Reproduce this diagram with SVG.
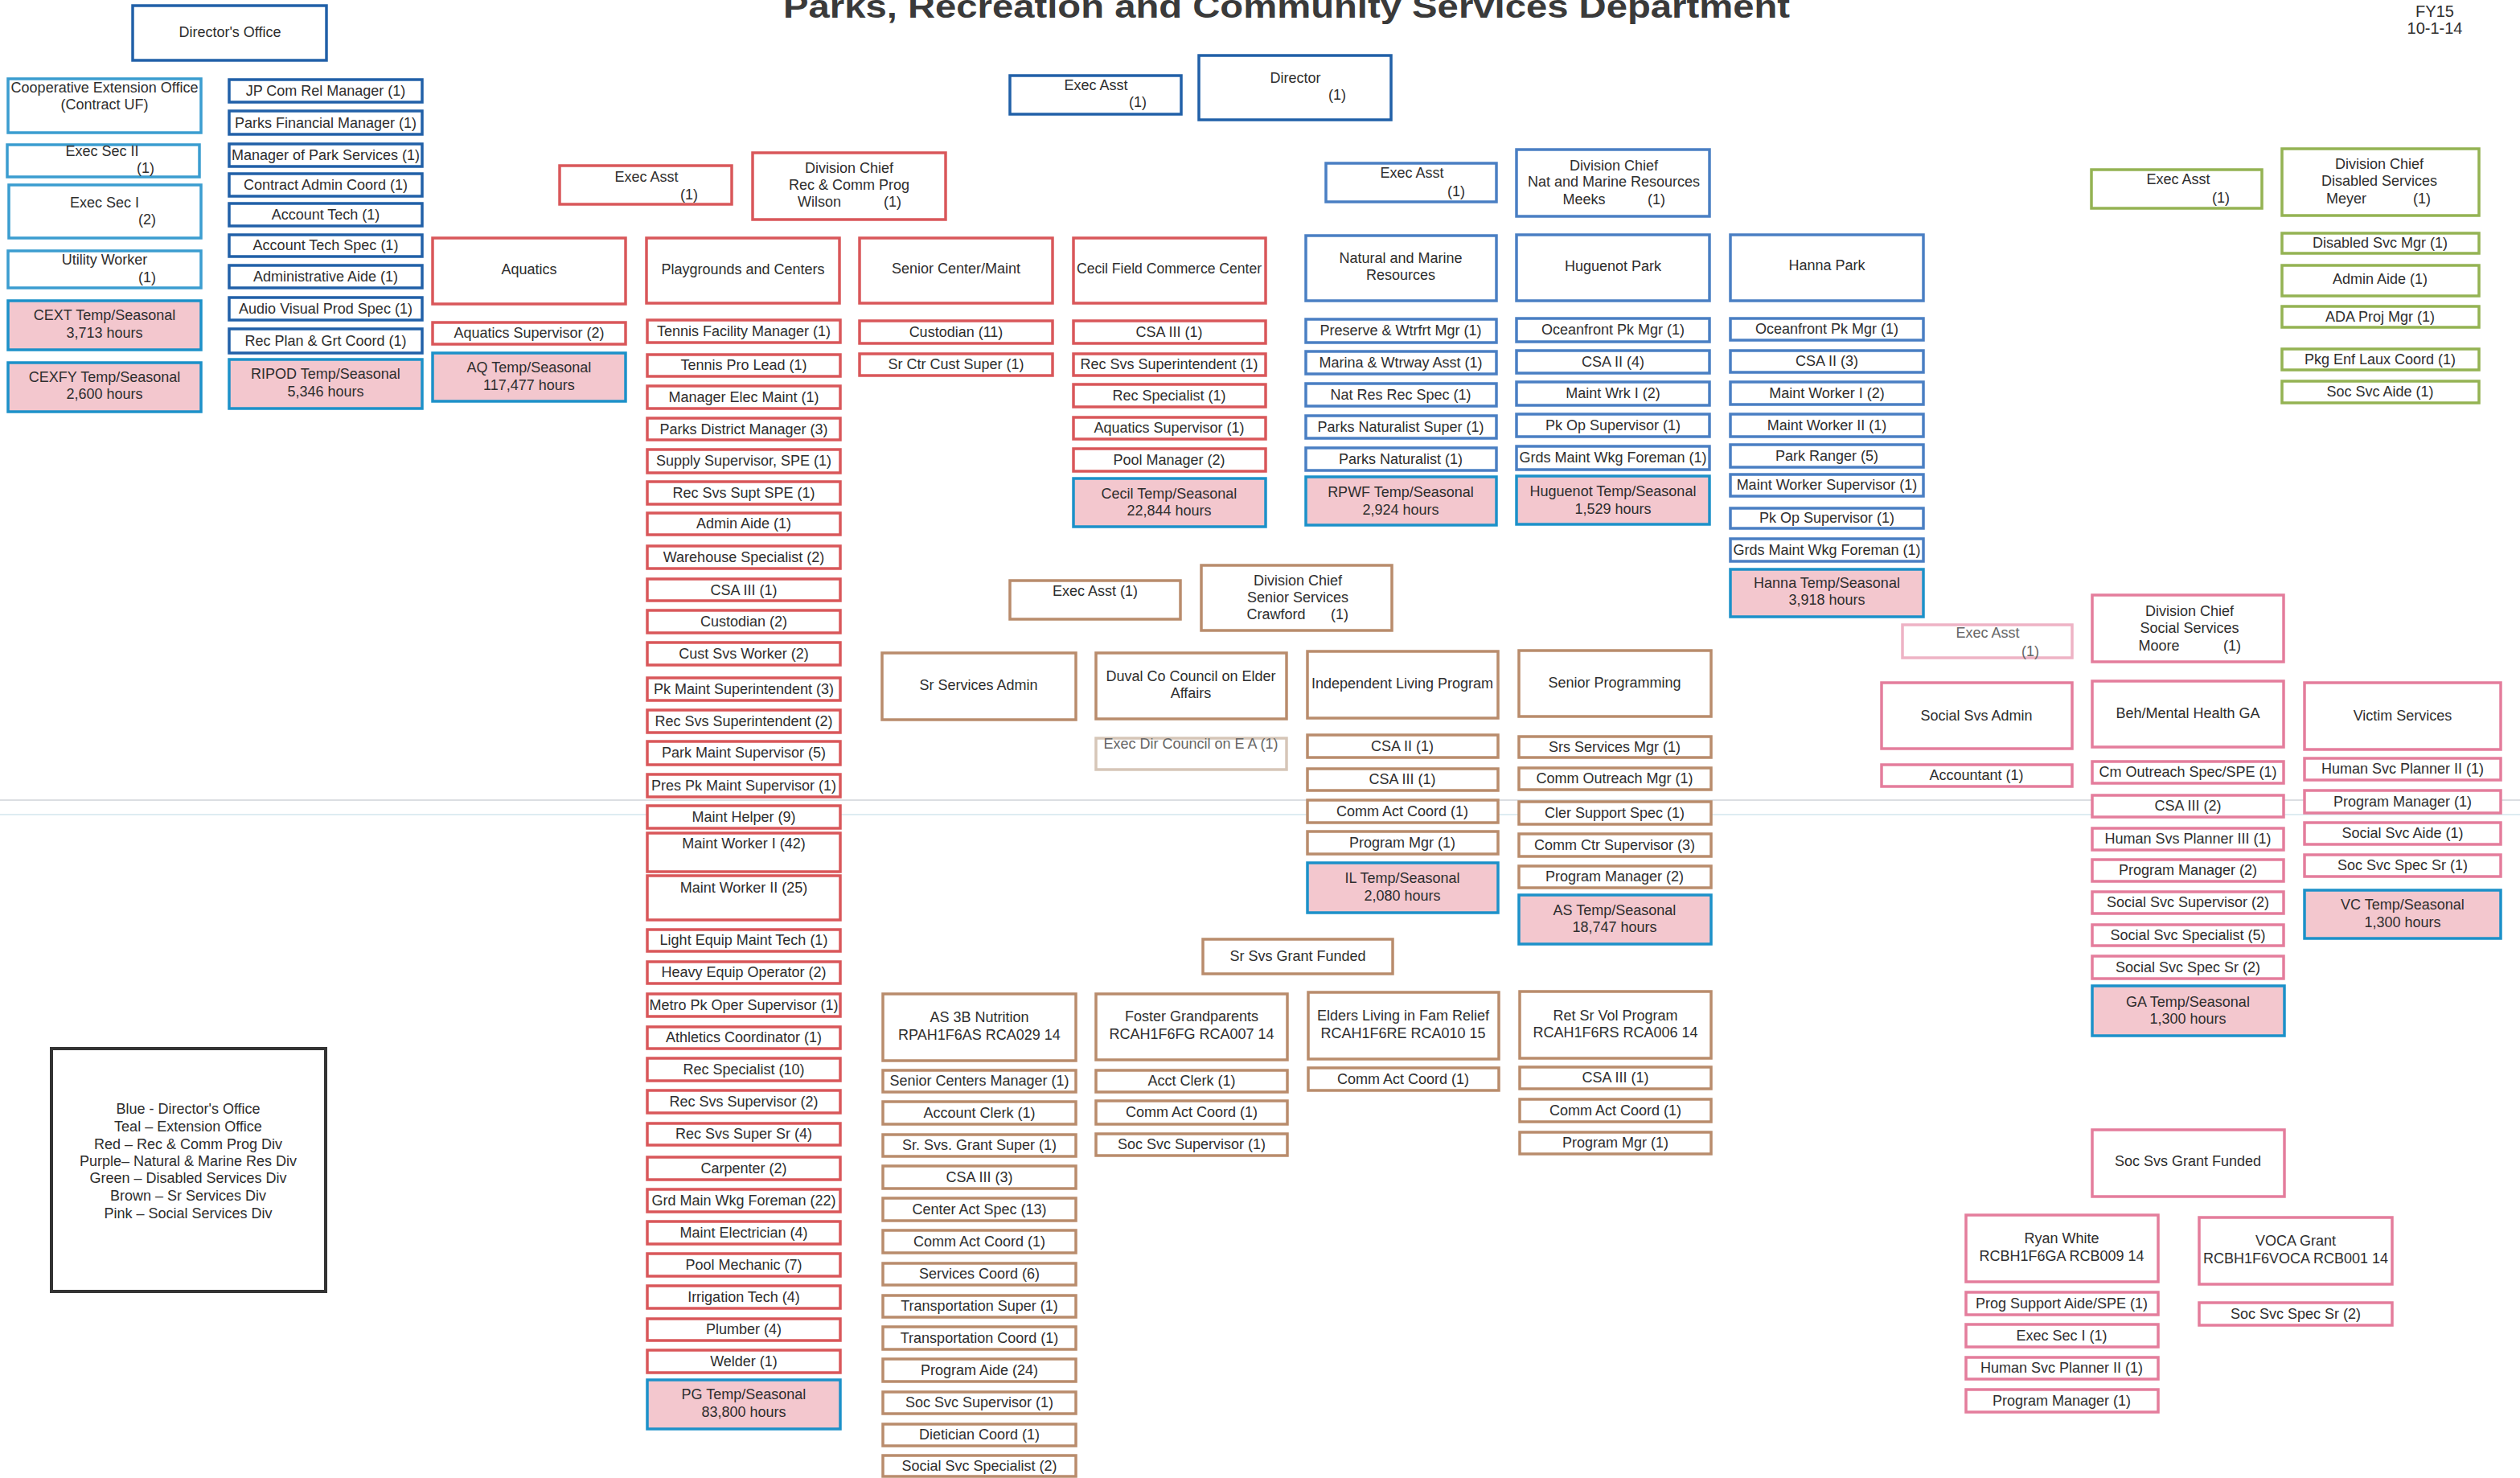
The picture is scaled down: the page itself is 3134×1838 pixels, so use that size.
<svg xmlns="http://www.w3.org/2000/svg" width="3134" height="1838" viewBox="0 0 3134 1838">
<style>
rect{fill:#fff;stroke-width:3.5}
.blue{stroke:#2160a8}
.teal{stroke:#3b9dd0}
.red{stroke:#d9575a}
.pur{stroke:#4a7fc3}
.grn{stroke:#94b353}
.brn{stroke:#b98c6c}
.pnk{stroke:#e47d9c}
.fbrn{stroke:#d6c6b8}
.fpnk{stroke:#eeb3c5}
.lg{stroke:#333;stroke-width:4}
.tmp{fill:#f3c7ce;stroke:#1c91c9}
text{font-family:"Liberation Sans",Arial,sans-serif;font-size:18px;fill:#2e2e2e;text-anchor:middle}
.ttl{font-size:40px;font-weight:bold;fill:#3a3a3a}
.fy{font-size:20px}
.fd{fill:#666}
</style>
<rect x="0" y="0" width="3134" height="1838" style="fill:#fff;stroke:none"/>
<g id="scan-lines">
<line x1="0" y1="995" x2="3134" y2="995" stroke="#cfd3d8" stroke-width="1.5"/>
<line x1="0" y1="1013" x2="3134" y2="1013" stroke="#d3e6ee" stroke-width="1.5"/>
</g>
<g id="connectors"></g>
<g id="title"><text class="ttl" x="1600" y="22" textLength="1252" lengthAdjust="spacingAndGlyphs">Parks, Recreation and Community Services Department</text></g>
<g id="date"><text class="fy" x="3028" y="21">FY15</text><text class="fy" x="3028" y="42">10-1-14</text></g>

<!-- Director's office -->
<g id="directors-office"><rect class="blue" x="165" y="7" width="241" height="68"/><text x="286" y="46">Director's Office</text></g>
<g id="coop-ext"><rect class="teal" x="10" y="98" width="240" height="67"/><text x="130" y="115">Cooperative Extension Office</text><text x="130" y="136">(Contract UF)</text></g>
<g id="exec-sec-2"><rect class="teal" x="9" y="180" width="239" height="40"/><text x="127" y="194">Exec Sec II</text><text x="181" y="215">(1)</text></g>
<g id="exec-sec-1"><rect class="teal" x="11" y="230" width="239" height="66"/><text x="130" y="258">Exec Sec I</text><text x="183" y="279">(2)</text></g>
<g id="utility-worker"><rect class="teal" x="10" y="312" width="240" height="46"/><text x="130" y="329">Utility Worker</text><text x="183" y="351">(1)</text></g>
<g id="cext-temp"><rect class="tmp" x="10" y="374" width="240" height="61"/><text x="130" y="398">CEXT Temp/Seasonal</text><text x="130" y="420">3,713 hours</text></g>
<g id="cexfy-temp"><rect class="tmp" x="10" y="451" width="240" height="61"/><text x="130" y="475">CEXFY Temp/Seasonal</text><text x="130" y="496">2,600 hours</text></g>

<g id="jp-com-rel"><rect class="blue" x="285" y="99" width="240" height="28"/><text x="405" y="119">JP Com Rel Manager (1)</text></g>
<g id="parks-fin-mgr"><rect class="blue" x="285" y="138" width="240" height="29"/><text x="405" y="159">Parks Financial Manager (1)</text></g>
<g id="mgr-park-svcs"><rect class="blue" x="285" y="179" width="240" height="28"/><text x="405" y="199">Manager of Park Services (1)</text></g>
<g id="contract-admin"><rect class="blue" x="285" y="216" width="240" height="28"/><text x="405" y="236">Contract Admin Coord (1)</text></g>
<g id="account-tech"><rect class="blue" x="285" y="253" width="240" height="28"/><text x="405" y="273">Account Tech (1)</text></g>
<g id="account-tech-spec"><rect class="blue" x="285" y="292" width="240" height="27"/><text x="405" y="311">Account Tech Spec (1)</text></g>
<g id="admin-aide-do"><rect class="blue" x="285" y="330" width="240" height="28"/><text x="405" y="350">Administrative Aide (1)</text></g>
<g id="av-prod-spec"><rect class="blue" x="285" y="370" width="240" height="28"/><text x="405" y="390">Audio Visual Prod Spec (1)</text></g>
<g id="rec-plan"><rect class="blue" x="285" y="409" width="240" height="30"/><text x="405" y="430">Rec Plan &amp; Grt Coord (1)</text></g>
<g id="ripod-temp"><rect class="tmp" x="285" y="447" width="240" height="61"/><text x="405" y="471">RIPOD Temp/Seasonal</text><text x="405" y="493">5,346 hours</text></g>

<g id="exec-asst-dir"><rect class="blue" x="1256" y="94" width="213" height="48"/><text x="1363" y="112">Exec Asst</text><text x="1415" y="133">(1)</text></g>
<g id="director"><rect class="blue" x="1491" y="69" width="239" height="80"/><text x="1611" y="103">Director</text><text x="1663" y="124">(1)</text></g>

<!-- Rec & Comm Prog (red) -->
<g id="exec-asst-rec"><rect class="red" x="696" y="206" width="214" height="48"/><text x="804" y="226">Exec Asst</text><text x="857" y="248">(1)</text></g>
<g id="div-chief-rec"><rect class="red" x="936" y="190" width="240" height="83"/><text x="1056" y="215">Division Chief</text><text x="1056" y="236">Rec &amp; Comm Prog</text><text x="1019" y="257">Wilson</text><text x="1110" y="257">(1)</text></g>
<g id="aquatics"><rect class="red" x="538" y="296" width="240" height="82"/><text x="658" y="341">Aquatics</text></g>
<g id="aq-sup"><rect class="red" x="538" y="401" width="240" height="27"/><text x="658" y="420">Aquatics Supervisor (2)</text></g>
<g id="aq-temp"><rect class="tmp" x="538" y="439" width="240" height="60"/><text x="658" y="463">AQ Temp/Seasonal</text><text x="658" y="485">117,477 hours</text></g>

<g id="playgrounds"><rect class="red" x="804" y="296" width="240" height="81"/><text x="924" y="341">Playgrounds and Centers</text></g>
<g id="pg-1"><rect class="red" x="805" y="398" width="240" height="28"/><text x="925" y="418">Tennis Facility Manager (1)</text></g>
<g id="pg-2"><rect class="red" x="805" y="441" width="240" height="27"/><text x="925" y="460">Tennis Pro Lead (1)</text></g>
<g id="pg-3"><rect class="red" x="805" y="480" width="240" height="28"/><text x="925" y="500">Manager Elec Maint (1)</text></g>
<g id="pg-4"><rect class="red" x="805" y="520" width="240" height="27"/><text x="925" y="540">Parks District Manager (3)</text></g>
<g id="pg-5"><rect class="red" x="805" y="559" width="240" height="29"/><text x="925" y="579">Supply Supervisor, SPE (1)</text></g>
<g id="pg-6"><rect class="red" x="805" y="599" width="240" height="28"/><text x="925" y="619">Rec Svs Supt SPE (1)</text></g>
<g id="pg-7"><rect class="red" x="805" y="638" width="240" height="27"/><text x="925" y="657">Admin Aide (1)</text></g>
<g id="pg-8"><rect class="red" x="805" y="679" width="240" height="28"/><text x="925" y="699">Warehouse Specialist (2)</text></g>
<g id="pg-9"><rect class="red" x="805" y="720" width="240" height="27"/><text x="925" y="740">CSA III (1)</text></g>
<g id="pg-10"><rect class="red" x="805" y="759" width="240" height="28"/><text x="925" y="779">Custodian (2)</text></g>
<g id="pg-11"><rect class="red" x="805" y="799" width="240" height="28"/><text x="925" y="819">Cust Svs Worker (2)</text></g>
<g id="pg-12"><rect class="red" x="805" y="843" width="240" height="28"/><text x="925" y="863">Pk Maint Superintendent (3)</text></g>
<g id="pg-13"><rect class="red" x="805" y="883" width="240" height="28"/><text x="925" y="903">Rec Svs Superintendent (2)</text></g>
<g id="pg-14"><rect class="red" x="805" y="922" width="240" height="29"/><text x="925" y="942">Park Maint Supervisor (5)</text></g>
<g id="pg-15"><rect class="red" x="805" y="963" width="240" height="28"/><text x="925" y="983">Pres Pk Maint Supervisor (1)</text></g>
<g id="pg-16"><rect class="red" x="805" y="1002" width="240" height="28"/><text x="925" y="1022">Maint Helper (9)</text></g>
<g id="pg-17"><rect class="red" x="805" y="1036" width="240" height="48"/><text x="925" y="1055">Maint Worker I (42)</text></g>
<g id="pg-18"><rect class="red" x="805" y="1089" width="240" height="55"/><text x="925" y="1110">Maint Worker II (25)</text></g>
<g id="pg-19"><rect class="red" x="805" y="1156" width="240" height="27"/><text x="925" y="1175">Light Equip Maint Tech (1)</text></g>
<g id="pg-20"><rect class="red" x="805" y="1196" width="240" height="27"/><text x="925" y="1215">Heavy Equip Operator (2)</text></g>
<g id="pg-21"><rect class="red" x="805" y="1236" width="240" height="28"/><text x="925" y="1256">Metro Pk Oper Supervisor (1)</text></g>
<g id="pg-22"><rect class="red" x="805" y="1277" width="240" height="27"/><text x="925" y="1296">Athletics Coordinator (1)</text></g>
<g id="pg-23"><rect class="red" x="805" y="1316" width="240" height="28"/><text x="925" y="1336">Rec Specialist (10)</text></g>
<g id="pg-24"><rect class="red" x="805" y="1356" width="240" height="28"/><text x="925" y="1376">Rec Svs Supervisor (2)</text></g>
<g id="pg-25"><rect class="red" x="805" y="1397" width="240" height="27"/><text x="925" y="1416">Rec Svs Super Sr (4)</text></g>
<g id="pg-26"><rect class="red" x="805" y="1439" width="240" height="28"/><text x="925" y="1459">Carpenter (2)</text></g>
<g id="pg-27"><rect class="red" x="805" y="1479" width="240" height="28"/><text x="925" y="1499">Grd Main Wkg Foreman (22)</text></g>
<g id="pg-28"><rect class="red" x="805" y="1519" width="240" height="28"/><text x="925" y="1539">Maint Electrician (4)</text></g>
<g id="pg-29"><rect class="red" x="805" y="1559" width="240" height="28"/><text x="925" y="1579">Pool Mechanic (7)</text></g>
<g id="pg-30"><rect class="red" x="805" y="1599" width="240" height="28"/><text x="925" y="1619">Irrigation Tech (4)</text></g>
<g id="pg-31"><rect class="red" x="805" y="1640" width="240" height="27"/><text x="925" y="1659">Plumber (4)</text></g>
<g id="pg-32"><rect class="red" x="805" y="1679" width="240" height="28"/><text x="925" y="1699">Welder (1)</text></g>
<g id="pg-temp"><rect class="tmp" x="805" y="1716" width="240" height="61"/><text x="925" y="1740">PG Temp/Seasonal</text><text x="925" y="1762">83,800 hours</text></g>

<g id="sr-center-maint"><rect class="red" x="1069" y="296" width="240" height="81"/><text x="1189" y="340">Senior Center/Maint</text></g>
<g id="scm-1"><rect class="red" x="1069" y="399" width="240" height="28"/><text x="1189" y="419">Custodian (11)</text></g>
<g id="scm-2"><rect class="red" x="1069" y="440" width="240" height="27"/><text x="1189" y="459">Sr Ctr Cust Super (1)</text></g>

<g id="cecil"><rect class="red" x="1335" y="296" width="239" height="81"/><text x="1454" y="340" textLength="230" lengthAdjust="spacingAndGlyphs">Cecil Field Commerce Center</text></g>
<g id="cecil-1"><rect class="red" x="1335" y="399" width="239" height="28"/><text x="1454" y="419">CSA III (1)</text></g>
<g id="cecil-2"><rect class="red" x="1335" y="440" width="239" height="27"/><text x="1454" y="459">Rec Svs Superintendent (1)</text></g>
<g id="cecil-3"><rect class="red" x="1335" y="478" width="239" height="28"/><text x="1454" y="498">Rec Specialist (1)</text></g>
<g id="cecil-4"><rect class="red" x="1335" y="519" width="239" height="27"/><text x="1454" y="538">Aquatics Supervisor (1)</text></g>
<g id="cecil-5"><rect class="red" x="1335" y="558" width="239" height="28"/><text x="1454" y="578">Pool Manager (2)</text></g>
<g id="cecil-temp"><rect class="tmp" x="1335" y="595" width="239" height="60"/><text x="1454" y="620">Cecil Temp/Seasonal</text><text x="1454" y="641">22,844 hours</text></g>

<!-- Natural & Marine (purple) -->
<g id="exec-asst-nat"><rect class="pur" x="1649" y="203" width="212" height="48"/><text x="1756" y="221">Exec Asst</text><text x="1811" y="244">(1)</text></g>
<g id="div-chief-nat"><rect class="pur" x="1886" y="186" width="240" height="83"/><text x="2007" y="212">Division Chief</text><text x="2007" y="232">Nat and Marine Resources</text><text x="1970" y="254">Meeks</text><text x="2060" y="254">(1)</text></g>
<g id="nmr"><rect class="pur" x="1624" y="293" width="237" height="81"/><text x="1742" y="327">Natural and Marine</text><text x="1742" y="348">Resources</text></g>
<g id="nmr-1"><rect class="pur" x="1624" y="397" width="237" height="29"/><text x="1742" y="417">Preserve &amp; Wtrfrt Mgr (1)</text></g>
<g id="nmr-2"><rect class="pur" x="1624" y="437" width="237" height="28"/><text x="1742" y="457">Marina &amp; Wtrway Asst (1)</text></g>
<g id="nmr-3"><rect class="pur" x="1624" y="477" width="237" height="28"/><text x="1742" y="497">Nat Res Rec Spec (1)</text></g>
<g id="nmr-4"><rect class="pur" x="1624" y="517" width="237" height="28"/><text x="1742" y="537">Parks Naturalist Super (1)</text></g>
<g id="nmr-5"><rect class="pur" x="1624" y="557" width="237" height="28"/><text x="1742" y="577">Parks Naturalist (1)</text></g>
<g id="rpwf-temp"><rect class="tmp" x="1624" y="593" width="237" height="60"/><text x="1742" y="618">RPWF Temp/Seasonal</text><text x="1742" y="640">2,924 hours</text></g>

<g id="huguenot"><rect class="pur" x="1886" y="292" width="240" height="82"/><text x="2006" y="337">Huguenot Park</text></g>
<g id="hug-1"><rect class="pur" x="1886" y="396" width="240" height="29"/><text x="2006" y="416">Oceanfront Pk Mgr (1)</text></g>
<g id="hug-2"><rect class="pur" x="1886" y="436" width="240" height="28"/><text x="2006" y="456">CSA II (4)</text></g>
<g id="hug-3"><rect class="pur" x="1886" y="475" width="240" height="29"/><text x="2006" y="495">Maint Wrk I (2)</text></g>
<g id="hug-4"><rect class="pur" x="1886" y="515" width="240" height="28"/><text x="2006" y="535">Pk Op Supervisor (1)</text></g>
<g id="hug-5"><rect class="pur" x="1886" y="555" width="240" height="29"/><text x="2006" y="575">Grds Maint Wkg Foreman (1)</text></g>
<g id="hug-temp"><rect class="tmp" x="1886" y="592" width="240" height="60"/><text x="2006" y="617">Huguenot Temp/Seasonal</text><text x="2006" y="639">1,529 hours</text></g>

<g id="hanna"><rect class="pur" x="2152" y="292" width="240" height="82"/><text x="2272" y="336">Hanna Park</text></g>
<g id="han-1"><rect class="pur" x="2152" y="396" width="240" height="27"/><text x="2272" y="415">Oceanfront Pk Mgr (1)</text></g>
<g id="han-2"><rect class="pur" x="2152" y="436" width="240" height="27"/><text x="2272" y="455">CSA II (3)</text></g>
<g id="han-3"><rect class="pur" x="2152" y="475" width="240" height="28"/><text x="2272" y="495">Maint Worker I (2)</text></g>
<g id="han-4"><rect class="pur" x="2152" y="515" width="240" height="28"/><text x="2272" y="535">Maint Worker II (1)</text></g>
<g id="han-5"><rect class="pur" x="2152" y="553" width="240" height="28"/><text x="2272" y="573">Park Ranger (5)</text></g>
<g id="han-6"><rect class="pur" x="2152" y="590" width="240" height="27"/><text x="2272" y="609">Maint Worker Supervisor (1)</text></g>
<g id="han-7"><rect class="pur" x="2152" y="632" width="240" height="25"/><text x="2272" y="650">Pk Op Supervisor (1)</text></g>
<g id="han-8"><rect class="pur" x="2152" y="670" width="240" height="28"/><text x="2272" y="690">Grds Maint Wkg Foreman (1)</text></g>
<g id="han-temp"><rect class="tmp" x="2152" y="708" width="240" height="59"/><text x="2272" y="731">Hanna Temp/Seasonal</text><text x="2272" y="752">3,918 hours</text></g>

<!-- Disabled Services (green) -->
<g id="exec-asst-dis"><rect class="grn" x="2601" y="211" width="212" height="48"/><text x="2709" y="229">Exec Asst</text><text x="2762" y="252">(1)</text></g>
<g id="div-chief-dis"><rect class="grn" x="2838" y="185" width="245" height="83"/><text x="2959" y="210">Division Chief</text><text x="2959" y="231">Disabled Services</text><text x="2918" y="253">Meyer</text><text x="3012" y="253">(1)</text></g>
<g id="dis-1"><rect class="grn" x="2838" y="290" width="245" height="25"/><text x="2960" y="308">Disabled Svc Mgr (1)</text></g>
<g id="dis-2"><rect class="grn" x="2838" y="330" width="245" height="38"/><text x="2960" y="353">Admin Aide (1)</text></g>
<g id="dis-3"><rect class="grn" x="2838" y="381" width="245" height="26"/><text x="2960" y="400">ADA Proj Mgr (1)</text></g>
<g id="dis-4"><rect class="grn" x="2838" y="434" width="245" height="26"/><text x="2960" y="453">Pkg Enf Laux Coord (1)</text></g>
<g id="dis-5"><rect class="grn" x="2838" y="474" width="245" height="27"/><text x="2960" y="493">Soc Svc Aide (1)</text></g>

<!-- Senior Services (brown) -->
<g id="exec-asst-sr"><rect class="brn" x="1256" y="722" width="212" height="48"/><text x="1362" y="741">Exec Asst (1)</text></g>
<g id="div-chief-sr"><rect class="brn" x="1494" y="703" width="237" height="81"/><text x="1614" y="728">Division Chief</text><text x="1614" y="749">Senior Services</text><text x="1587" y="770">Crawford</text><text x="1666" y="770">(1)</text></g>
<g id="sr-admin"><rect class="brn" x="1097" y="812" width="241" height="83"/><text x="1217" y="858">Sr Services Admin</text></g>
<g id="duval"><rect class="brn" x="1363" y="812" width="237" height="82"/><text x="1481" y="847">Duval Co Council on Elder</text><text x="1481" y="868">Affairs</text></g>
<g id="exec-dir-council"><rect class="fbrn" x="1363" y="918" width="237" height="39"/><text class="fd" x="1481" y="931">Exec Dir Council on E A (1)</text></g>
<g id="ilp"><rect class="brn" x="1626" y="810" width="237" height="83"/><text x="1744" y="856">Independent Living Program</text></g>
<g id="ilp-1"><rect class="brn" x="1626" y="914" width="237" height="28"/><text x="1744" y="934">CSA II (1)</text></g>
<g id="ilp-2"><rect class="brn" x="1626" y="956" width="237" height="27"/><text x="1744" y="975">CSA III (1)</text></g>
<g id="ilp-3"><rect class="brn" x="1626" y="995" width="237" height="28"/><text x="1744" y="1015">Comm Act Coord (1)</text></g>
<g id="ilp-4"><rect class="brn" x="1626" y="1034" width="237" height="28"/><text x="1744" y="1054">Program Mgr (1)</text></g>
<g id="il-temp"><rect class="tmp" x="1626" y="1073" width="237" height="62"/><text x="1744" y="1098">IL Temp/Seasonal</text><text x="1744" y="1120">2,080 hours</text></g>
<g id="sr-prog"><rect class="brn" x="1889" y="809" width="239" height="82"/><text x="2008" y="855">Senior Programming</text></g>
<g id="sp-1"><rect class="brn" x="1889" y="916" width="239" height="26"/><text x="2008" y="935">Srs Services Mgr (1)</text></g>
<g id="sp-2"><rect class="brn" x="1889" y="955" width="239" height="27"/><text x="2008" y="974">Comm Outreach Mgr (1)</text></g>
<g id="sp-3"><rect class="brn" x="1889" y="997" width="239" height="28"/><text x="2008" y="1017">Cler Support Spec (1)</text></g>
<g id="sp-4"><rect class="brn" x="1889" y="1037" width="239" height="28"/><text x="2008" y="1057">Comm Ctr Supervisor (3)</text></g>
<g id="sp-5"><rect class="brn" x="1889" y="1077" width="239" height="27"/><text x="2008" y="1096">Program Manager (2)</text></g>
<g id="as-temp"><rect class="tmp" x="1889" y="1113" width="239" height="61"/><text x="2008" y="1138">AS Temp/Seasonal</text><text x="2008" y="1159">18,747 hours</text></g>
<g id="sr-grant"><rect class="brn" x="1496" y="1168" width="236" height="43"/><text x="1614" y="1195">Sr Svs Grant Funded</text></g>

<g id="as3b"><rect class="brn" x="1098" y="1236" width="240" height="83"/><text x="1218" y="1271">AS 3B Nutrition</text><text x="1218" y="1293">RPAH1F6AS RCA029 14</text></g>
<g id="as3b-1"><rect class="brn" x="1098" y="1331" width="240" height="27"/><text x="1218" y="1350">Senior Centers Manager (1)</text></g>
<g id="as3b-2"><rect class="brn" x="1098" y="1370" width="240" height="28"/><text x="1218" y="1390">Account Clerk (1)</text></g>
<g id="as3b-3"><rect class="brn" x="1098" y="1411" width="240" height="27"/><text x="1218" y="1430">Sr. Svs. Grant Super (1)</text></g>
<g id="as3b-4"><rect class="brn" x="1098" y="1450" width="240" height="28"/><text x="1218" y="1470">CSA III (3)</text></g>
<g id="as3b-5"><rect class="brn" x="1098" y="1490" width="240" height="28"/><text x="1218" y="1510">Center Act Spec (13)</text></g>
<g id="as3b-6"><rect class="brn" x="1098" y="1530" width="240" height="28"/><text x="1218" y="1550">Comm Act Coord (1)</text></g>
<g id="as3b-7"><rect class="brn" x="1098" y="1571" width="240" height="27"/><text x="1218" y="1590">Services Coord (6)</text></g>
<g id="as3b-8"><rect class="brn" x="1098" y="1611" width="240" height="27"/><text x="1218" y="1630">Transportation Super (1)</text></g>
<g id="as3b-9"><rect class="brn" x="1098" y="1650" width="240" height="28"/><text x="1218" y="1670">Transportation Coord (1)</text></g>
<g id="as3b-10"><rect class="brn" x="1098" y="1690" width="240" height="28"/><text x="1218" y="1710">Program Aide (24)</text></g>
<g id="as3b-11"><rect class="brn" x="1098" y="1731" width="240" height="27"/><text x="1218" y="1750">Soc Svc Supervisor (1)</text></g>
<g id="as3b-12"><rect class="brn" x="1098" y="1771" width="240" height="27"/><text x="1218" y="1790">Dietician Coord (1)</text></g>
<g id="as3b-13"><rect class="brn" x="1098" y="1810" width="240" height="26"/><text x="1218" y="1829">Social Svc Specialist (2)</text></g>

<g id="foster"><rect class="brn" x="1363" y="1236" width="238" height="82"/><text x="1482" y="1270">Foster Grandparents</text><text x="1482" y="1292">RCAH1F6FG RCA007 14</text></g>
<g id="foster-1"><rect class="brn" x="1363" y="1331" width="238" height="27"/><text x="1482" y="1350">Acct Clerk (1)</text></g>
<g id="foster-2"><rect class="brn" x="1363" y="1369" width="238" height="29"/><text x="1482" y="1389">Comm Act Coord (1)</text></g>
<g id="foster-3"><rect class="brn" x="1363" y="1410" width="238" height="27"/><text x="1482" y="1429">Soc Svc Supervisor (1)</text></g>

<g id="elders"><rect class="brn" x="1627" y="1234" width="237" height="83"/><text x="1745" y="1269">Elders Living in Fam Relief</text><text x="1745" y="1291">RCAH1F6RE RCA010 15</text></g>
<g id="elders-1"><rect class="brn" x="1627" y="1328" width="237" height="28"/><text x="1745" y="1348">Comm Act Coord (1)</text></g>

<g id="rsvp"><rect class="brn" x="1890" y="1233" width="238" height="83"/><text x="2009" y="1269">Ret Sr Vol Program</text><text x="2009" y="1290">RCAH1F6RS RCA006 14</text></g>
<g id="rsvp-1"><rect class="brn" x="1890" y="1327" width="238" height="27"/><text x="2009" y="1346">CSA III (1)</text></g>
<g id="rsvp-2"><rect class="brn" x="1890" y="1367" width="238" height="28"/><text x="2009" y="1387">Comm Act Coord (1)</text></g>
<g id="rsvp-3"><rect class="brn" x="1890" y="1408" width="238" height="27"/><text x="2009" y="1427">Program Mgr (1)</text></g>

<!-- Social Services (pink) -->
<g id="exec-asst-soc"><rect class="fpnk" x="2366" y="777" width="211" height="41"/><text class="fd" x="2472" y="793">Exec Asst</text><text class="fd" x="2525" y="816">(1)</text></g>
<g id="div-chief-soc"><rect class="pnk" x="2602" y="740" width="238" height="83"/><text x="2723" y="766">Division Chief</text><text x="2723" y="787">Social Services</text><text x="2685" y="809">Moore</text><text x="2776" y="809">(1)</text></g>
<g id="soc-admin"><rect class="pnk" x="2340" y="849" width="237" height="82"/><text x="2458" y="896">Social Svs Admin</text></g>
<g id="accountant"><rect class="pnk" x="2340" y="951" width="237" height="27"/><text x="2458" y="970">Accountant (1)</text></g>
<g id="bmh"><rect class="pnk" x="2602" y="847" width="238" height="82"/><text x="2721" y="893">Beh/Mental Health GA</text></g>
<g id="bmh-1"><rect class="pnk" x="2602" y="947" width="238" height="27"/><text x="2721" y="966">Cm Outreach Spec/SPE (1)</text></g>
<g id="bmh-2"><rect class="pnk" x="2602" y="989" width="238" height="27"/><text x="2721" y="1008">CSA III (2)</text></g>
<g id="bmh-3"><rect class="pnk" x="2602" y="1030" width="238" height="27"/><text x="2721" y="1049">Human Svs Planner III (1)</text></g>
<g id="bmh-4"><rect class="pnk" x="2602" y="1069" width="238" height="27"/><text x="2721" y="1088">Program Manager (2)</text></g>
<g id="bmh-5"><rect class="pnk" x="2602" y="1109" width="238" height="27"/><text x="2721" y="1128">Social Svc Supervisor (2)</text></g>
<g id="bmh-6"><rect class="pnk" x="2602" y="1150" width="238" height="26"/><text x="2721" y="1169">Social Svc Specialist (5)</text></g>
<g id="bmh-7"><rect class="pnk" x="2602" y="1189" width="238" height="28"/><text x="2721" y="1209">Social Svc Spec Sr (2)</text></g>
<g id="ga-temp"><rect class="tmp" x="2602" y="1226" width="239" height="62"/><text x="2721" y="1252">GA Temp/Seasonal</text><text x="2721" y="1273">1,300 hours</text></g>
<g id="victim"><rect class="pnk" x="2866" y="849" width="244" height="83"/><text x="2988" y="896">Victim Services</text></g>
<g id="vic-1"><rect class="pnk" x="2866" y="943" width="244" height="27"/><text x="2988" y="962">Human Svc Planner II (1)</text></g>
<g id="vic-2"><rect class="pnk" x="2866" y="983" width="244" height="28"/><text x="2988" y="1003">Program Manager (1)</text></g>
<g id="vic-3"><rect class="pnk" x="2866" y="1023" width="244" height="27"/><text x="2988" y="1042">Social Svc Aide (1)</text></g>
<g id="vic-4"><rect class="pnk" x="2866" y="1063" width="244" height="27"/><text x="2988" y="1082">Soc Svc Spec Sr (1)</text></g>
<g id="vc-temp"><rect class="tmp" x="2866" y="1107" width="244" height="60"/><text x="2988" y="1131">VC Temp/Seasonal</text><text x="2988" y="1153">1,300 hours</text></g>
<g id="soc-grant"><rect class="pnk" x="2602" y="1405" width="239" height="83"/><text x="2721" y="1450">Soc Svs Grant Funded</text></g>
<g id="ryan-white"><rect class="pnk" x="2445" y="1511" width="239" height="83"/><text x="2564" y="1546">Ryan White</text><text x="2564" y="1568">RCBH1F6GA RCB009 14</text></g>
<g id="rw-1"><rect class="pnk" x="2445" y="1607" width="239" height="28"/><text x="2564" y="1627">Prog Support Aide/SPE (1)</text></g>
<g id="rw-2"><rect class="pnk" x="2445" y="1647" width="239" height="28"/><text x="2564" y="1667">Exec Sec I (1)</text></g>
<g id="rw-3"><rect class="pnk" x="2445" y="1688" width="239" height="27"/><text x="2564" y="1707">Human Svc Planner II (1)</text></g>
<g id="rw-4"><rect class="pnk" x="2445" y="1728" width="239" height="28"/><text x="2564" y="1748">Program Manager (1)</text></g>
<g id="voca"><rect class="pnk" x="2735" y="1514" width="240" height="83"/><text x="2855" y="1549">VOCA Grant</text><text x="2855" y="1571">RCBH1F6VOCA RCB001 14</text></g>
<g id="voca-1"><rect class="pnk" x="2735" y="1620" width="240" height="28"/><text x="2855" y="1640">Soc Svc Spec Sr (2)</text></g>

<!-- Legend -->
<g id="legend"><rect class="lg" x="64" y="1304" width="341" height="302"/>
<text x="234" y="1385">Blue - Director's Office</text>
<text x="234" y="1407">Teal – Extension Office</text>
<text x="234" y="1429">Red – Rec &amp; Comm Prog Div</text>
<text x="234" y="1450">Purple– Natural &amp; Marine Res Div</text>
<text x="234" y="1471">Green – Disabled Services Div</text>
<text x="234" y="1493">Brown – Sr Services Div</text>
<text x="234" y="1515">Pink – Social Services Div</text>
</g>
</svg>
